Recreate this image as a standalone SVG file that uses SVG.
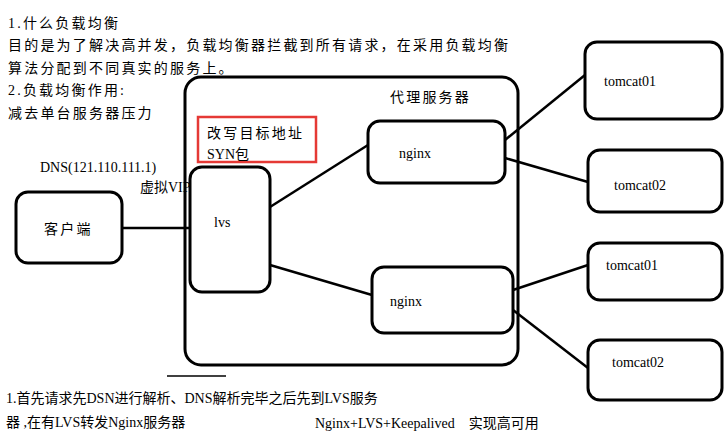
<svg xmlns="http://www.w3.org/2000/svg" width="728" height="442" viewBox="0 0 728 442">
<style>
.b{fill:#fff;stroke:#000;stroke-width:3}
.l{stroke:#000;stroke-width:2.5;fill:none}
text{font-family:"Liberation Serif","Noto Sans CJK SC",serif;font-size:14px;fill:#000}
.c{letter-spacing:2.2px}
</style>
<rect width="728" height="442" fill="#fff"/>
<text class="c" x="8" y="28">1.什么负载均衡</text>
<text class="c" x="8" y="50">目的是为了解决高并发，负载均衡器拦截到所有请求，在采用负载均衡</text>
<text class="c" x="8" y="73">算法分配到不同真实的服务上。</text>
<text class="c" x="8" y="95">2.负载均衡作用:</text>
<text class="c" x="8" y="118">减去单台服务器压力</text>
<g id="proxy"><rect class="b" x="185" y="77" width="333" height="288" rx="16"/><text class="c" x="390" y="102">代理服务器</text></g>
<g id="rewrite"><rect x="198" y="117" width="118" height="45" fill="none" stroke="#e53935" stroke-width="2.5"/><text class="c" x="207" y="138">改写目标地址</text><text x="207" y="159">SYN包</text></g>
<text x="40" y="172">DNS(121.110.111.1)</text>
<text x="140" y="192">虚拟VIP</text>
<g id="client"><rect class="b" x="16" y="192" width="106" height="71" rx="12"/><text class="c" x="44" y="234">客户端</text></g>
<g id="lvs"><rect class="b" x="190" y="167" width="80" height="125" rx="12"/><text x="214" y="227">lvs</text></g>
<g id="nginx1"><rect class="b" x="368" y="121" width="137" height="62" rx="12"/><text x="399" y="158">nginx</text></g>
<g id="nginx2"><rect class="b" x="372" y="267" width="141" height="66" rx="12"/><text x="390" y="306">nginx</text></g>
<g id="t1"><rect class="b" x="585" y="42" width="137" height="77" rx="12"/><text x="604" y="86">tomcat01</text></g>
<g id="t2"><rect class="b" x="588" y="150" width="134" height="62" rx="12"/><text x="614" y="190">tomcat02</text></g>
<g id="t3"><rect class="b" x="588" y="243" width="134" height="57" rx="12"/><text x="606" y="270">tomcat01</text></g>
<g id="t4"><rect class="b" x="588" y="340" width="134" height="60" rx="12"/><text x="612" y="367">tomcat02</text></g>
<g id="connectors">
<line class="l" x1="122" y1="228" x2="190" y2="228"/>
<line class="l" x1="270" y1="207" x2="368" y2="145"/>
<line class="l" x1="270" y1="265" x2="372" y2="295"/>
<line class="l" x1="505" y1="140" x2="585" y2="75"/>
<line class="l" x1="505" y1="158" x2="588" y2="182"/>
<line class="l" x1="513" y1="290" x2="588" y2="265"/>
<line class="l" x1="513" y1="310" x2="588" y2="368"/>
</g>
<line x1="167" y1="376" x2="226" y2="376" stroke="#000" stroke-width="1.5"/>
<text x="6" y="403">1.首先请求先DSN进行解析、DNS解析完毕之后先到LVS服务</text>
<text x="6" y="427">器 ,在有LVS转发Nginx服务器</text>
<text x="315" y="428">Nginx+LVS+Keepalived　实现高可用</text>
</svg>
